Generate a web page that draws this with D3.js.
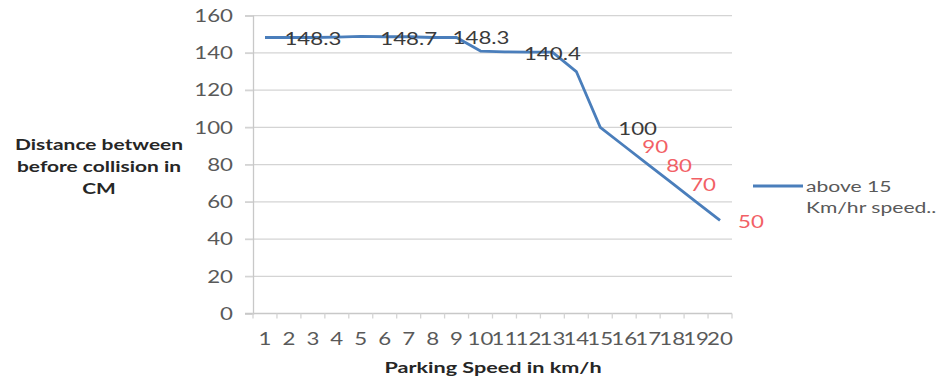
<!DOCTYPE html>
<html>
<head>
<meta charset="utf-8">
<script src="https://cdn.jsdelivr.net/npm/d3@7/dist/d3.min.js"></script>
<style>
  html, body { margin: 0; padding: 0; background: #fff; }
  svg { display: block; }
</style>
</head>
<body>
<svg id="chart" width="937" height="379"></svg>
<script>
// Parking speed (km/h) categories and measured stopping distance (cm)
const speeds = [1, 2, 3, 4, 5, 6, 7, 8, 9, 10, 11, 12, 13, 14, 15, 16, 17, 18, 19, 20];
const distance = [148.3, 148.3, 148.3, 148.5, 148.9, 148.7, 148.7, 148.3, 148.3, 141.0,
                  140.6, 140.4, 140.4, 130.0, 100.0, 90.0, 80.0, 70.0, 60.0, 50.0];
const yTicks = [0, 20, 40, 60, 80, 100, 120, 140, 160];
// speeds whose values are printed on the chart
const labelledSpeeds = [3, 7, 9, 13, 15, 16, 17, 18, 20];
const seriesName = ["above 15", "Km/hr speed.."];
const yTitle = ["Distance between", "before collision in", "CM"];
const xTitle = "Parking Speed in km/h";

const SX = 1.35;          // horizontal stretch applied to all text
const FONT = "Lato, 'Open Sans', sans-serif";

const svg = d3.select("#chart");
const plotL = 253, plotR = 732, plotT = 15.7, plotB = 313.5;

const x = d3.scaleBand().domain(speeds).range([plotL, plotR]).padding(0);
const y = d3.scaleLinear().domain([0, 160]).range([plotB, plotT]);
const cx = d => x(d) + x.bandwidth() / 2;

function text(g, px, py, s, o = {}) {
  return g.append("text")
    .attr("transform", `translate(${px},${py}) scale(${o.sx || SX},1)`)
    .attr("text-anchor", o.anchor || "middle")
    .attr("dominant-baseline", "central")
    .style("font-family", FONT)
    .style("font-size", (o.size || 16.5) + "px")
    .style("font-weight", o.weight || "normal")
    .attr("fill", o.fill || "#595959")
    .text(s);
}

// horizontal gridlines
const grid = svg.append("g");
grid.selectAll("line").data(yTicks.filter(t => t > 0)).join("line")
  .attr("x1", plotL - 8).attr("x2", plotR)
  .attr("y1", d => y(d)).attr("y2", d => y(d))
  .attr("stroke", "#d4d4d4").attr("stroke-width", 1.3);

// y axis
const yAxis = svg.append("g").attr("transform", `translate(${plotL},0)`)
  .call(d3.axisLeft(y).tickValues(yTicks).tickSize(8).tickFormat(""));
yAxis.select(".domain").attr("stroke", "#c8c8c8").attr("stroke-width", 1.3);
yAxis.selectAll(".tick line").attr("stroke", "#d4d4d4").attr("stroke-width", 1.3);
yTicks.forEach(t => text(svg, 233, y(t), String(t), { anchor: "end" }));

// x axis with category tick marks between labels
const xAxis = svg.append("g").attr("transform", `translate(0,${plotB})`)
  .call(d3.axisBottom(x).tickSize(0).tickFormat(""));
xAxis.select(".domain").attr("stroke", "#c8c8c8").attr("stroke-width", 1.3)
  .attr("d", `M${plotL - 8},0H${plotR}`);
const bounds = speeds.map(s => x(s)).concat([plotR]);
xAxis.selectAll(".cat-tick").data(bounds).join("line")
  .attr("class", "cat-tick")
  .attr("x1", d => d).attr("x2", d => d).attr("y1", 0).attr("y2", 5)
  .attr("stroke", "#d4d4d4").attr("stroke-width", 1.3);
speeds.forEach(s => text(svg, cx(s), 339, String(s)));

// series line
const line = d3.line()
  .x((d, i) => cx(speeds[i]))
  .y(d => y(d));
svg.append("path").datum(distance)
  .attr("d", line)
  .attr("fill", "none")
  .attr("stroke", "#4a7ebb")
  .attr("stroke-width", 2.8)
  .attr("stroke-linejoin", "round");

// value labels
labelledSpeeds.forEach(s => {
  const i = speeds.indexOf(s);
  const v = distance[i];
  const px = cx(s), py = y(v);
  const red = s >= 16;
  const fill = red ? "#f26065" : "#3a3a3a";
  const str = d3.format(Number.isInteger(v) ? "d" : ".1f")(v);
  if (s === 3 || s === 7 || s === 13) {
    text(svg, px, py + 1.5, str, { fill });
  } else if (s === 9) {
    text(svg, px - 4, py + 0.5, str, { anchor: "start", fill });
  } else {
    text(svg, px + 18, py + 1, str, { anchor: "start", fill });
  }
});

// legend
svg.append("line")
  .attr("x1", 753).attr("x2", 803).attr("y1", 186).attr("y2", 186)
  .attr("stroke", "#4a7ebb").attr("stroke-width", 2.8);
seriesName.forEach((s, k) => text(svg, 806, 186 + k * 21.5, s, { anchor: "start", size: 16, sx: 1.32 }));

// axis titles
yTitle.forEach((s, k) => text(svg, 99, 144 + k * 22, s, { size: 15.5, weight: "bold", fill: "#262626" }));
text(svg, 493, 367, xTitle, { size: 16, weight: "bold", fill: "#262626" });
</script>
</body>
</html>
